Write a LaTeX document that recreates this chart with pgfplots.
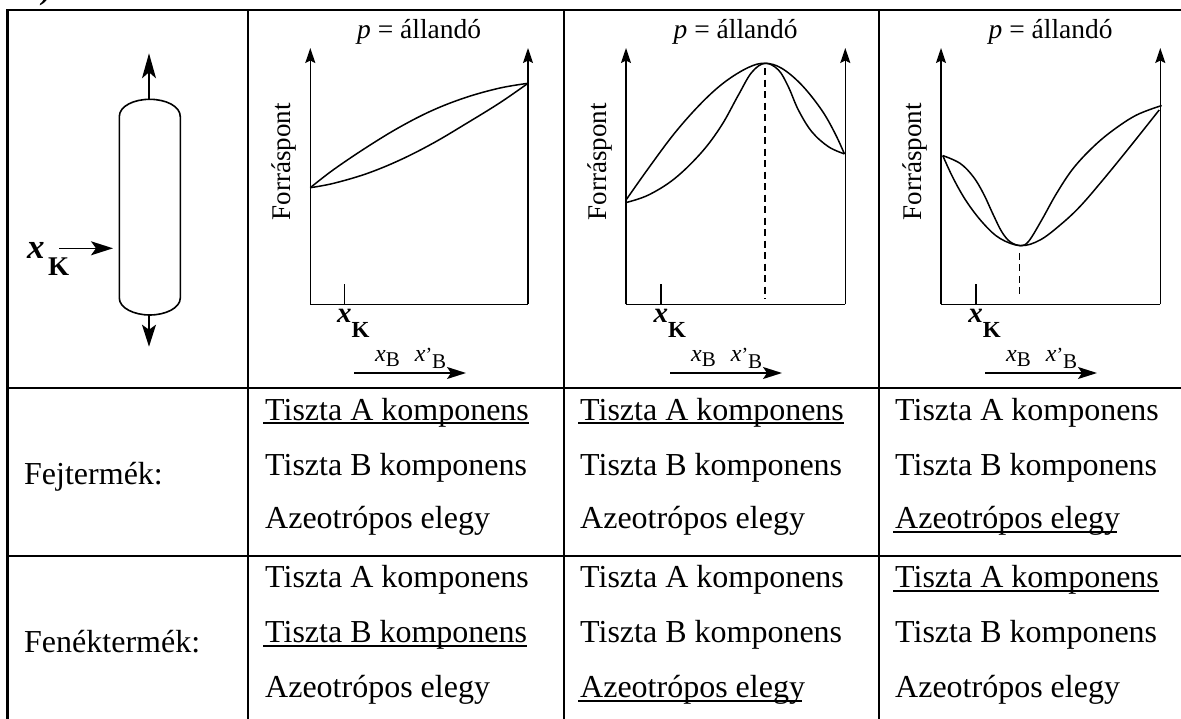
\documentclass[border=0pt]{standalone}
\usepackage{fontspec}
\setmainfont{Liberation Serif}
\usepackage{pgfplots}
\pgfplotsset{compat=1.18}
\usetikzlibrary{arrows.meta}
\newcommand{\fs}[1]{\fontsize{#1}{#1}\selectfont}
\newcommand{\xk}{{\fs{29}\bfseries\itshape x}\raisebox{-15pt}{\fs{23}\bfseries K}}
\newcommand{\xbb}{{\fs{24}\itshape x}\raisebox{-5pt}{\fs{21}B}\hspace{15pt}{\fs{24}\itshape x}\raisebox{1pt}{\fs{20}\char"0027}\raisebox{-7pt}{\fs{21}B}}
\pgfplotsset{
  boil/.style={
    scale only axis, clip=false,
    anchor=south west,
    xmin=0, xmax=1, ymin=0.078, ymax=1,
    height=256.3pt,
    axis x line=bottom, axis y line=left,
    x axis line style={-, line width=1.5pt},
    y axis line style={-{Stealth[length=15pt,width=10pt,inset=2.5pt]}, line width=1.5pt},
    ytick=\empty,
    xtick={0.158},
    xticklabels={\xk},
    tick align=inside,
    major tick length=20pt,
    tick style={black, line width=1.4pt},
    xticklabel style={anchor=base west, inner sep=0pt, outer sep=0pt, xshift=-7.5pt, yshift=-18pt},
    title={\fs{27.5}{\itshape p} = állandó},
    title style={anchor=base, at={(0.5,1)}, inner sep=0pt, yshift=3pt},
    ylabel={\fs{27}Forráspont},
    ylabel style={at={(0,0.557)}, anchor=base, inner sep=0pt, yshift=20pt},
    curve/.style={line width=1.5pt, black, smooth, tension=0.6, no marks},
    rightax/.style={line width=1.5pt, black, no marks, -{Stealth[length=15pt,width=10pt,inset=2.5pt]}},
    dash/.style={line width=1.5pt, black, no marks, dash pattern=on 7pt off 4.5pt},
  }
}
\begin{document}
\begin{tikzpicture}[x=1pt,y=1pt]
\path[use as bounding box] (0,0) rectangle (1181,-719);

\node[anchor=base west,inner sep=0pt] at (22,0.5) {\fs{30}\bfseries\itshape A)};

% table rules
\begin{scope}[line width=2.2pt]
\draw (6.4,-10) -- (1181,-10);
\draw (7.5,-388) -- (1181,-388);
\draw (7.5,-556) -- (1181,-556);
\draw (7.5,-10) -- (7.5,-719);
\draw (248,-10) -- (248,-719);
\draw (564,-10) -- (564,-719);
\draw (879,-10) -- (879,-719);
\end{scope}

% column sketch
\draw[line width=1.6pt] (119.3,-116.7) .. controls (119.3,-106) and (134,-99.3) .. (149.8,-99.3)
  .. controls (165.5,-99.3) and (180.3,-106) .. (180.3,-116.7) -- (180.3,-298)
  .. controls (180.3,-308) and (165.5,-315) .. (149.8,-315)
  .. controls (134,-315) and (119.3,-308) .. (119.3,-298) -- cycle;
\draw[line width=1.5pt,-{Stealth[length=25pt,width=14pt,inset=6pt]}] (149,-99.3) -- (149,-53.3);
\draw[line width=1.5pt,-{Stealth[length=22pt,width=14pt,inset=5pt]}] (149,-315) -- (149,-346.7);
\draw[line width=1.5pt,-{Stealth[length=22pt,width=14pt,inset=5pt]}] (59,-248.3) -- (113,-248.3);
\node[anchor=base west,inner sep=0pt] at (27,-259) {\fs{35}\bfseries\itshape x};
\node[anchor=base west,inner sep=0pt] at (48,-276) {\fs{27}\bfseries K};

% chart 1
\begin{axis}[boil, at={(310.3pt,-304.3pt)}, width=217.7pt]
\addplot[rightax] coordinates {(1,0.078) (1,1)};
\addplot[curve] coordinates {(0,0.4975)(0.106,0.562)(0.259,0.643)(0.412,0.716)(0.565,0.777)(0.718,0.823)(0.871,0.856)(1,0.873)};
\addplot[curve] coordinates {(0,0.4975)(0.106,0.513)(0.259,0.548)(0.412,0.597)(0.565,0.658)(0.718,0.729)(0.871,0.803)(1,0.873)};
\end{axis}
\node[anchor=base west,inner sep=0pt] at (375,-362) {\xbb};
\draw[line width=1.5pt,-{Stealth[length=19pt,width=12pt,inset=4pt]}] (354,-373) -- (466,-373);

% chart 2
\begin{axis}[boil, at={(626pt,-304.3pt)}, width=219.3pt, xtick={0.16}]
\addplot[rightax] coordinates {(1,0.078) (1,1)};
\addplot[curve] coordinates {(0,0.453)(0.102,0.567)(0.223,0.695)(0.345,0.803)(0.451,0.878)(0.558,0.930)(0.634,0.945)(0.710,0.927)(0.801,0.867)(0.892,0.777)(0.953,0.693)(0.996,0.619)};
\addplot[curve] coordinates {(0,0.444)(0.102,0.471)(0.223,0.531)(0.345,0.625)(0.436,0.722)(0.512,0.830)(0.573,0.912)(0.634,0.945)(0.695,0.921)(0.740,0.861)(0.786,0.777)(0.847,0.699)(0.923,0.645)(0.996,0.619)};
\addplot[dash] coordinates {(0.634,0.928)(0.634,0.10)};
\end{axis}
\node[anchor=base west,inner sep=0pt] at (691,-362) {\xbb};
\draw[line width=1.5pt,-{Stealth[length=19pt,width=12pt,inset=4pt]}] (670,-373) -- (782,-373);

% chart 3
\begin{axis}[boil, at={(941pt,-304.3pt)}, width=219.3pt, xtick={0.159}]
\addplot[rightax] coordinates {(1,0.078) (1,1)};
\addplot[curve] coordinates {(0.008,0.613)(0.056,0.531)(0.117,0.447)(0.193,0.369)(0.269,0.315)(0.363,0.289)(0.451,0.309)(0.543,0.363)(0.634,0.430)(0.740,0.527)(0.862,0.645)(0.995,0.777)};
\addplot[curve] coordinates {(0.008,0.613)(0.087,0.585)(0.147,0.537)(0.193,0.477)(0.239,0.399)(0.277,0.339)(0.315,0.303)(0.363,0.289)(0.400,0.305)(0.459,0.381)(0.527,0.477)(0.603,0.567)(0.695,0.645)(0.786,0.705)(0.892,0.759)(1.006,0.793)};
\addplot[dash] coordinates {(0.358,0.263)(0.358,0.10)};
\end{axis}
\node[anchor=base west,inner sep=0pt] at (1006,-362) {\xbb};
\draw[line width=1.5pt,-{Stealth[length=19pt,width=12pt,inset=4pt]}] (985,-373) -- (1097,-373);

% table text
\tikzset{cell/.style={anchor=base west,inner sep=0pt,font=\fs{32}}}
\node[cell] at (24,-484) {Fejtermék:};
\node[cell] at (24,-652) {Fenéktermék:};
\foreach \x in {265,580,895}{
  \node[cell] at (\x,-420) {Tiszta A komponens};
  \node[cell] at (\x,-475) {Tiszta B komponens};
  \node[cell] at (\x,-528) {Azeotrópos elegy};
  \node[cell] at (\x,-587) {Tiszta A komponens};
  \node[cell] at (\x,-642) {Tiszta B komponens};
  \node[cell] at (\x,-697) {Azeotrópos elegy};
}
% underlines
\begin{scope}[line width=1.6pt]
\draw (263,-423) -- (529,-423);
\draw (578,-423) -- (844,-423);
\draw (893,-532) -- (1117,-532);
\draw (263,-646) -- (527,-646);
\draw (578,-701) -- (802,-701);
\draw (893,-591) -- (1159,-591);
\end{scope}
\end{tikzpicture}
\end{document}
